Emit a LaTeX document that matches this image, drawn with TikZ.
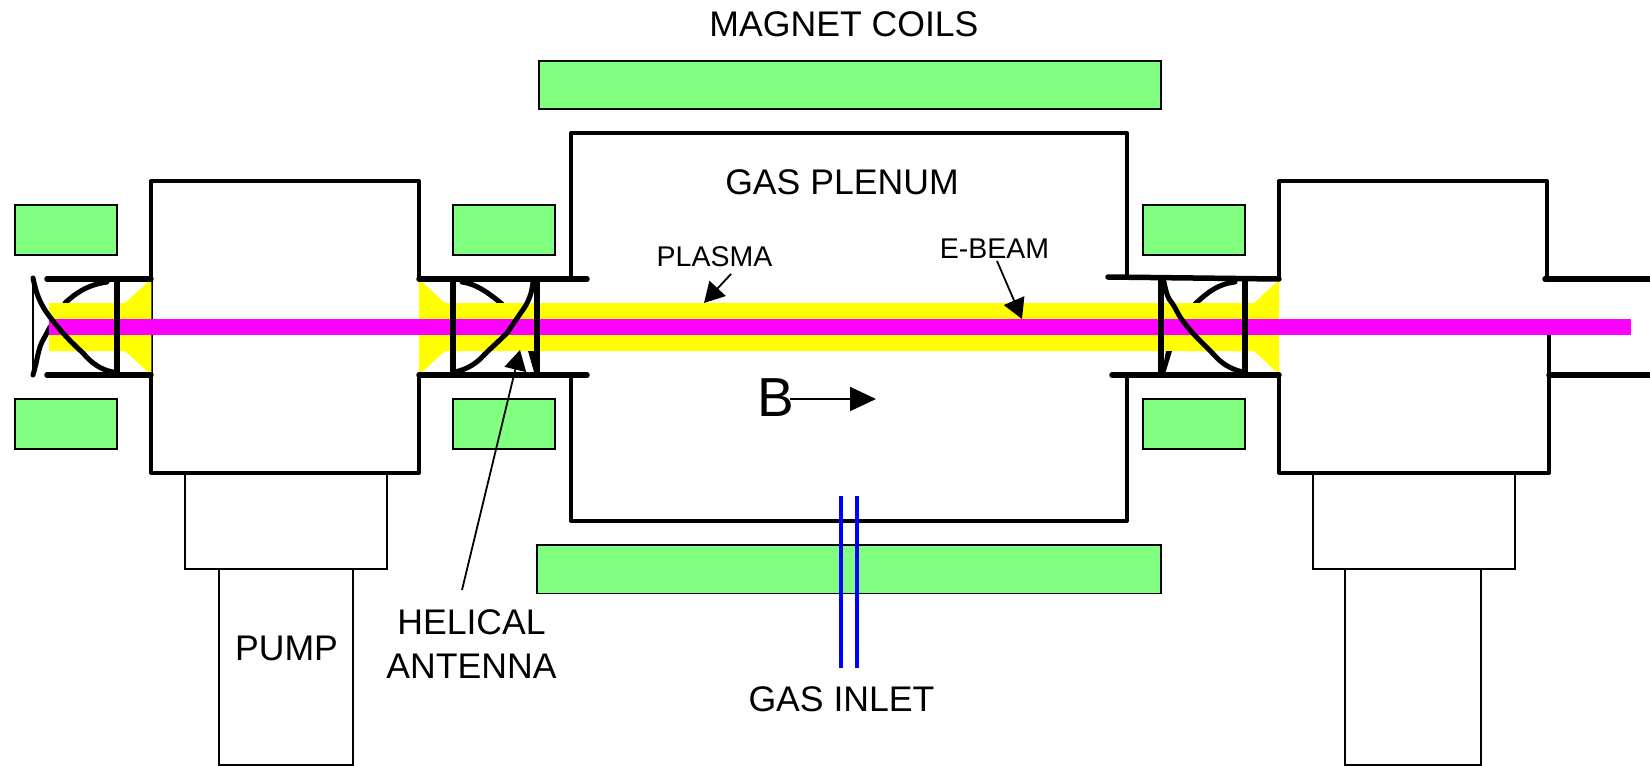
\documentclass[tikz,border=0pt]{standalone}
\usepackage{fontspec}
\setmainfont{Liberation Sans}
\usetikzlibrary{arrows.meta}
\definecolor{coilgreen}{RGB}{128,255,128}
\definecolor{beamyellow}{RGB}{255,255,0}
\definecolor{beammag}{RGB}{255,0,255}
\tikzset{
  coil/.style={draw=black,line width=1.6pt,fill=coilgreen},
  wall/.style={draw=black,line width=4pt,line cap=round,line join=round},
  tube/.style={draw=black,line width=5.5pt,line cap=round},
  rib/.style={draw=black,line width=6pt,line cap=butt},
  wire/.style={draw=black,line width=5pt,line cap=round,line join=round},
  pumpbox/.style={draw=black,line width=1.7pt},
  lbl/.style={inner sep=0pt,font=\fontsize{35.6}{44}\selectfont,align=center},
  lblsmall/.style={inner sep=0pt,font=\fontsize{28.5}{34}\selectfont},
  pointer/.style={draw=black,line width=1.8pt,-{Triangle[length=20pt,width=22pt]}},
  inlet/.style={draw={rgb,255:red,0;green,0;blue,255},line width=3.2pt}
}
\begin{document}
\begin{tikzpicture}[x=1pt,y=-1pt]
\useasboundingbox (0,0) rectangle (1650,766);
% coils
\draw[coil] (539,61) rectangle (1161,109);
\draw[coil] (537,545) rectangle (1161,593.5);
\foreach \xa/\xb in {15/117,453/555,1143/1245}{
  \draw[coil] (\xa,205) rectangle (\xb,255);
  \draw[coil] (\xa,399) rectangle (\xb,449);
}
% pump boxes
\draw[pumpbox] (185,472) rectangle (387,569);
\draw[pumpbox] (219,569) rectangle (353,765);
\draw[pumpbox] (1313,472) rectangle (1515,569);
\draw[pumpbox] (1345,569) rectangle (1481,765);
% chamber walls
\draw[wall] (151,279) -- (151,375);
\draw[wall] (151,279) -- (151,181) -- (419,181) -- (419,279);
\draw[wall] (151,375) -- (151,472.5) -- (419,472.5) -- (419,375);
\draw[wall] (571,279) -- (571,133) -- (1127,133) -- (1127,277);
\draw[wall] (571,375) -- (571,520.5) -- (1127,520.5) -- (1127,375);
\draw[wall] (1279,279) -- (1279,181) -- (1547,181) -- (1547,279);
\draw[wall] (1279,375) -- (1279,472.5) -- (1549,472.5) -- (1549,334);
% rear antenna turns
\draw[black,line width=2pt] (33,278) -- (33,375);
\draw[wire] (107,282) .. controls (87,285) and (76,293) .. (65,303);
\draw[wire] (33,375) .. controls (37,362) and (38,350) .. (42,342) -- (50,327);
\draw[wire] (462,282) .. controls (475,284) and (485,290) .. (502,304);
\draw[wire] (1235,282) .. controls (1218,284) and (1208,292) .. (1195,304);
% plasma
\fill[beamyellow] (49,303) -- (125,303) -- (151.3,279) -- (151.3,375) -- (125,351) -- (49,351) -- cycle;
\fill[beamyellow] (419,279) -- (445,303) -- (1254,303) -- (1279,280) -- (1279,374) -- (1254,351) -- (445,351) -- (419,375) -- cycle;
% e-beam
\fill[beammag] (49,319) rectangle (1631,335);
% tubes
\draw[tube] (47,279) -- (151,279);
\draw[tube] (47,375) -- (151,375);
\draw[tube] (419,279) -- (587,279);
\draw[tube] (419,375) -- (587,375);
\draw[tube] (1108,277) -- (1279,279);
\draw[tube] (1112,375) -- (1279,375);
\draw[tube] (1545,279) -- (1655,279);
\draw[tube] (1549,375) -- (1655,375);
% ribs
\foreach \x in {117,453,537,1161,1245}{ \draw[rib] (\x,279) -- (\x,375); }
% front antenna turns
\draw[wire] (33,278) .. controls (36,292) and (39,303) .. (50,317) .. controls (62,333) and (72,343) .. (83,353) .. controls (92,364) and (102,370) .. (113,372);
\draw[wire] (533,282) .. controls (532,292) and (529,302) .. (522,311) -- (507,333) .. controls (498,342) and (490,349) .. (484,355) .. controls (477,363) and (468,369) .. (455,372);
\draw[wire] (1164,282) .. controls (1166,292) and (1168,299) .. (1172,303) .. controls (1177,310) and (1178,315) .. (1183,321) .. controls (1193,335) and (1205,345) .. (1217,358) .. controls (1225,366) and (1234,370) .. (1243,372);
\fill[black] (1162,372) -- (1166,351) -- (1172,351) -- (1165,374) -- cycle;
% antenna feed beside pointer
\fill[black] (528,351) -- (535,351) -- (535,372) -- (534,372) -- cycle;
\draw[white,line width=2.6pt] (522,351) -- (530,372);
% labels
\node[lbl] (magnet) at (844,24) {MAGNET COILS};
\node[lbl] (plenum) at (842,182) {GAS PLENUM};
\node[lblsmall] (plasma) at (714.5,257) {PLASMA};
\node[lblsmall] (ebeam) at (994.4,249) {E-BEAM};
\node[inner sep=0pt,font=\fontsize{55}{55}\selectfont] (bfield) at (776,398) {B};
\node[lbl] (antenna) at (471.5,644.5) {HELICAL\\ANTENNA};
\node[lbl] (pump) at (286.5,648) {PUMP};
\node[lbl] (inletlbl) at (841.5,699) {GAS INLET};
% targets
\coordinate (plasmaT) at (704,303);
\coordinate (plasmaS) at (731,274);
\coordinate (ebeamT) at (1022,319);
\coordinate (ebeamS) at (997,261);
\coordinate (bT) at (876,399);
\coordinate (bS) at (790,399);
\coordinate (antT) at (520,350);
\coordinate (antS) at (462,590);
\draw[pointer] (plasmaS) -- (plasmaT);
\draw[pointer] (ebeamS) -- (ebeamT);
\draw[draw=black,line width=1.8pt,-{Triangle[length=26pt,width=24pt]}] (bS) -- (bT);
\draw[pointer] (antS) -- (antT);
% gas inlet
\draw[inlet] (841,496) -- (841,668);
\draw[inlet] (857,496) -- (857,668);
\end{tikzpicture}
\end{document}
